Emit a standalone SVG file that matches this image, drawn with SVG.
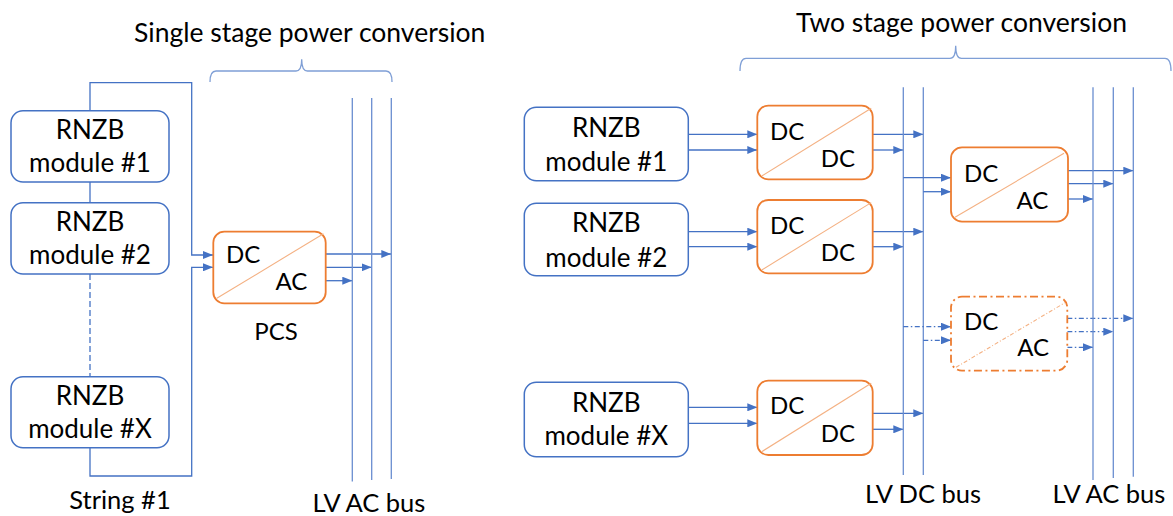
<svg xmlns="http://www.w3.org/2000/svg" width="1173" height="516" viewBox="0 0 1173 516">
<style>
text{font-family:Lato,"Liberation Sans",sans-serif;fill:#000}
.t{font-size:26.5px}
.m{font-size:26px;text-anchor:middle}
.c{font-size:24px}
.l{font-size:25.5px}
.p{font-size:24px}
.mod{fill:#fff;stroke:#4472C4;stroke-width:1.5}
.conv{fill:#fff;stroke:#ED7D31;stroke-width:1.8}
.convd{fill:#fff;stroke:#ED7D31;stroke-width:1.8;stroke-dasharray:8 3.5 2 3.5}
.diag{stroke:#F4B183;stroke-width:1.1}
.diagd{stroke:#F4B183;stroke-width:1.1;stroke-dasharray:4 2 1 2}
.w{fill:none;stroke:#4472C4;stroke-width:1.3}
.wd{fill:none;stroke:#4472C4;stroke-width:1.2;stroke-dasharray:5 2.5 1.5 2.5}
.bus{fill:none;stroke:#6A8ED0;stroke-width:1.3}
.br{fill:none;stroke:#7F9FD6;stroke-width:1.3}
</style>
<defs>
<marker id="arr" markerWidth="10" markerHeight="8" refX="10" refY="4" orient="auto" markerUnits="userSpaceOnUse"><path d="M0,0 L10,4 L0,8 z" fill="#4472C4"/></marker>
</defs>

<g id="titles">
<text class="t" x="309.7" y="42.3" text-anchor="middle">Single stage power conversion</text>
<text class="t" x="961.5" y="32.3" text-anchor="middle">Two stage power conversion</text>
<path class="br" d="M210,82 Q210,71 216,71 L296,71 Q301.7,71 301.7,59.3 Q301.7,71 307.4,71 L386,71 Q392,71 392,82"/>
<path class="br" d="M740,71 Q740,58.3 746,58.3 L950,58.3 Q955.7,58.3 955.7,45.7 Q955.7,58.3 961.4,58.3 L1165,58.3 Q1171,58.3 1171,71"/>
</g>

<g id="connectors">
<path class="w" d="M90,110.7 V82.7 H191.7 V255 H213" marker-end="url(#arr)"/>
<path class="w" d="M90,447.7 V476 H191.7 V267.3 H213" marker-end="url(#arr)"/>
<path class="w" d="M90,182 V203"/>
<path class="w" d="M90,274 V377" stroke-dasharray="6 3"/>
<path class="w" d="M326,254 H391.3" marker-end="url(#arr)"/>
<path class="w" d="M326,267.3 H371.7" marker-end="url(#arr)"/>
<path class="w" d="M326,280.7 H352.3" marker-end="url(#arr)"/>
<path class="bus" d="M352.3,98 V481.5 M371.7,98 V480 M391.3,98 V479"/>

<path class="w" d="M688.3,134.3 H757.3" marker-end="url(#arr)"/>
<path class="w" d="M688.3,150 H757.3" marker-end="url(#arr)"/>
<path class="w" d="M688.3,231.7 H757.3" marker-end="url(#arr)"/>
<path class="w" d="M688.3,246.7 H757.3" marker-end="url(#arr)"/>
<path class="w" d="M688.3,407.3 H757.3" marker-end="url(#arr)"/>
<path class="w" d="M688.3,423.3 H757.3" marker-end="url(#arr)"/>
<path class="w" d="M872.7,134.3 H923.3" marker-end="url(#arr)"/>
<path class="w" d="M872.7,150 H903.3" marker-end="url(#arr)"/>
<path class="w" d="M872.7,231.7 H923.3" marker-end="url(#arr)"/>
<path class="w" d="M872.7,246.7 H903.3" marker-end="url(#arr)"/>
<path class="w" d="M872.7,413.3 H923.3" marker-end="url(#arr)"/>
<path class="w" d="M872.7,429.3 H903.3" marker-end="url(#arr)"/>
<path class="bus" d="M903.3,87.3 V475 M923.3,87.3 V475"/>
<path class="w" d="M903.3,177.7 H951" marker-end="url(#arr)"/>
<path class="w" d="M923.3,191.7 H951" marker-end="url(#arr)"/>
<path class="wd" d="M903.3,326.7 H951" marker-end="url(#arr)"/>
<path class="wd" d="M923.3,340.3 H951" marker-end="url(#arr)"/>
<path class="w" d="M1068,170.7 H1133.3" marker-end="url(#arr)"/>
<path class="w" d="M1068,183.7 H1113.3" marker-end="url(#arr)"/>
<path class="w" d="M1068,199 H1093" marker-end="url(#arr)"/>
<path class="wd" d="M1067.3,318.3 H1133.3" marker-end="url(#arr)"/>
<path class="wd" d="M1067.3,331.7 H1113.3" marker-end="url(#arr)"/>
<path class="wd" d="M1067.3,347.3 H1093" marker-end="url(#arr)"/>
<path class="bus" d="M1093,87.3 V480 M1113.3,87.3 V478 M1133.3,87.3 V476.7"/>
</g>

<g id="left-module-1">
<rect class="mod" x="11" y="110.7" width="158" height="71.3" rx="12"/>
<text class="m" x="90" y="139">RNZB</text>
<text class="m" x="90" y="171.7">module #1</text>
</g>
<g id="left-module-2">
<rect class="mod" x="11" y="202.7" width="158" height="71.3" rx="12"/>
<text class="m" x="90" y="231">RNZB</text>
<text class="m" x="90" y="263.7">module #2</text>
</g>
<g id="left-module-x">
<rect class="mod" x="11" y="376.7" width="158" height="71" rx="12"/>
<text class="m" x="90" y="405">RNZB</text>
<text class="m" x="90" y="437.7">module #X</text>
</g>

<g id="pcs">
<rect class="conv" x="213.3" y="231.7" width="112.4" height="71.6" rx="11"/>
<line class="diag" x1="216.8" y1="298.3" x2="323.5" y2="233.7"/>
<text class="c" x="226" y="263.3">DC</text>
<text class="c" x="307.3" y="290" text-anchor="end">AC</text>
<text class="p" x="276" y="340" text-anchor="middle">PCS</text>
</g>

<g id="label-string">
<text class="l" x="120" y="509" text-anchor="middle">String #1</text>
</g>
<g id="label-lv-ac-left">
<text class="l" x="369" y="511.5" text-anchor="middle">LV AC bus</text>
</g>

<g id="right-module-1">
<rect class="mod" x="524.3" y="107.3" width="164" height="73.4" rx="12"/>
<text class="m" x="606.3" y="136.7">RNZB</text>
<text class="m" x="606.3" y="171">module #1</text>
</g>
<g id="right-module-2">
<rect class="mod" x="524.3" y="203.3" width="164" height="72.4" rx="12"/>
<text class="m" x="606.3" y="231.7">RNZB</text>
<text class="m" x="606.3" y="266.7">module #2</text>
</g>
<g id="right-module-x">
<rect class="mod" x="524.3" y="382.3" width="164" height="74.4" rx="12"/>
<text class="m" x="606.3" y="412.3">RNZB</text>
<text class="m" x="606.3" y="445">module #X</text>
</g>

<g id="dcdc-1">
<rect class="conv" x="757.3" y="105.7" width="115.4" height="73.6" rx="11"/>
<line class="diag" x1="761.7" y1="176" x2="871.2" y2="108.3"/>
<text class="c" x="770" y="140">DC</text>
<text class="c" x="855" y="166.7" text-anchor="end">DC</text>
</g>
<g id="dcdc-2">
<rect class="conv" x="757.3" y="200" width="115.4" height="73.3" rx="11"/>
<line class="diag" x1="761.7" y1="270" x2="871.2" y2="202.6"/>
<text class="c" x="770" y="234">DC</text>
<text class="c" x="855" y="260.7" text-anchor="end">DC</text>
</g>
<g id="dcdc-x">
<rect class="conv" x="757.3" y="380.7" width="115.4" height="74.3" rx="11"/>
<line class="diag" x1="761.7" y1="451.7" x2="871.2" y2="383.3"/>
<text class="c" x="770" y="414">DC</text>
<text class="c" x="855" y="441.7" text-anchor="end">DC</text>
</g>

<g id="dcac-1">
<rect class="conv" x="951" y="147.3" width="117" height="74.4" rx="11"/>
<line class="diag" x1="955" y1="217.3" x2="1064" y2="153.3"/>
<text class="c" x="964" y="181.7">DC</text>
<text class="c" x="1048.3" y="209" text-anchor="end">AC</text>
</g>
<g id="dcac-2-optional">
<rect class="convd" x="951" y="296.7" width="116.3" height="74" rx="11"/>
<line class="diagd" x1="956" y1="367.3" x2="1065" y2="302.7"/>
<text class="c" x="964" y="330">DC</text>
<text class="c" x="1049" y="356" text-anchor="end">AC</text>
</g>

<g id="label-lv-dc">
<text class="l" x="923" y="503" text-anchor="middle">LV DC bus</text>
</g>
<g id="label-lv-ac-right">
<text class="l" x="1109" y="503" text-anchor="middle">LV AC bus</text>
</g>
</svg>
